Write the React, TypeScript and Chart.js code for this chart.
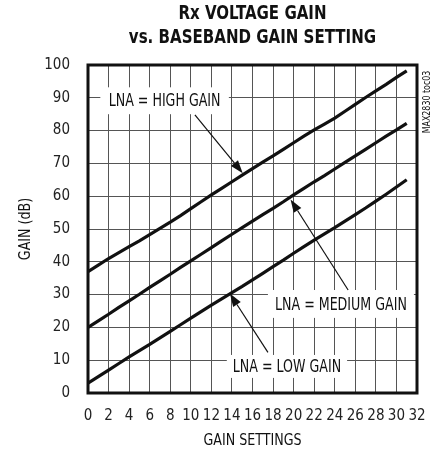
import React, { useEffect, useRef } from "react";
import { Chart, registerables } from "chart.js";

Chart.register(...registerables);

const gainSettings = [0, 1, 2, 3, 4, 5, 6, 7, 8, 9, 10, 11, 12, 13, 14, 15, 16, 17, 18, 19, 20, 21, 22, 23, 24, 25, 26, 27, 28, 29, 30, 31];
const highGain = [37, 39, 41, 42.8, 44.6, 46.4, 48.3, 50.2, 52.1, 54.1, 56.2, 58.3, 60.4, 62.4, 64.4, 66.4, 68.4, 70.4, 72.3, 74.3, 76.3, 78.3, 80.2, 82, 83.8, 85.9, 88, 90.1, 92.1, 94.1, 96.2, 98.2];
const mediumGain = [20, 22, 24, 26.1, 28.1, 30.1, 32.2, 34.2, 36.2, 38.3, 40.3, 42.3, 44.3, 46.4, 48.4, 50.4, 52.4, 54.4, 56.3, 58.3, 60.4, 62.4, 64.4, 66.3, 68.3, 70.3, 72.3, 74.3, 76.3, 78.3, 80.2, 82.2];
const lowGain = [3, 5, 7, 9, 11, 12.9, 14.8, 16.8, 18.8, 20.8, 22.8, 24.8, 26.8, 28.7, 30.6, 32.5, 34.5, 36.5, 38.5, 40.5, 42.6, 44.6, 46.6, 48.5, 50.4, 52.4, 54.4, 56.4, 58.5, 60.6, 62.8, 65];

const xTickValues = [0, 2, 4, 6, 8, 10, 12, 14, 16, 18, 20, 22, 24, 26, 28, 30, 32];
const yTickValues = [0, 10, 20, 30, 40, 50, 60, 70, 80, 90, 100];

const titleLines = ["Rx VOLTAGE GAIN", "vs. BASEBAND GAIN SETTING"];
const xAxisTitle = "GAIN SETTINGS";
const yAxisTitle = "GAIN (dB)";
const watermarkText = "MAX2830 toc03";

const seriesLabels = ["LNA = HIGH GAIN", "LNA = MEDIUM GAIN", "LNA = LOW GAIN"];

// annotation boxes in data units: [x0, x1, yTop, yBottom], arrow from/to in data units
const annotationBoxes = [
  [1.2, 13.7, 93.2, 85],
  [17.5, 31.7, 31.4, 22.9],
  [13.5, 25.2, 11.6, 4.6],
];
const arrowFrom = [
  [10.4, 84.8],
  [25.3, 31.4],
  [17.5, 12.4],
];
const arrowTo = [
  [15.05, 67.0],
  [19.7, 59.0],
  [13.8, 30.3],
];

const FONT = '"DejaVu Sans Condensed", "DejaVu Sans", sans-serif';

function condensedText(ctx: any, text: string, x: number, y: number, font: string, sx: number) {
  ctx.save();
  ctx.font = font;
  ctx.translate(x, y);
  ctx.scale(sx, 1);
  ctx.fillText(text, 0, 0);
  ctx.restore();
}

const overlayPlugin = {
  id: "overlay",
  afterDraw(chart: any) {
    const ctx = chart.ctx;
    const area = chart.chartArea;
    const xs = chart.scales.x;
    const ys = chart.scales.y;
    const cx = (area.left + area.right) / 2;
    ctx.save();

    // frame
    ctx.strokeStyle = "#111";
    ctx.lineWidth = 3;
    ctx.strokeRect(area.left, area.top, area.right - area.left, area.bottom - area.top);

    // title
    ctx.fillStyle = "#111";
    ctx.textAlign = "center";
    ctx.textBaseline = "middle";
    condensedText(ctx, titleLines[0], cx, 14, `bold 19px ${FONT}`, 0.88);
    condensedText(ctx, titleLines[1], cx, 38, `bold 19px ${FONT}`, 0.88);

    // axis titles
    condensedText(ctx, xAxisTitle, cx, 441, `16px ${FONT}`, 0.88);
    ctx.save();
    ctx.translate(26, (area.top + area.bottom) / 2);
    ctx.rotate(-Math.PI / 2);
    condensedText(ctx, yAxisTitle, 0, 0, `16px ${FONT}`, 0.88);
    ctx.restore();

    // watermark
    ctx.save();
    ctx.translate(427, 102);
    ctx.rotate(-Math.PI / 2);
    condensedText(ctx, watermarkText, 0, 0, `11px ${FONT}`, 0.8);
    ctx.restore();

    // annotations
    for (let i = 0; i < seriesLabels.length; i++) {
      const b = annotationBoxes[i];
      const x0 = xs.getPixelForValue(b[0]);
      const x1 = xs.getPixelForValue(b[1]);
      const y0 = ys.getPixelForValue(b[2]);
      const y1 = ys.getPixelForValue(b[3]);
      ctx.fillStyle = "#fff";
      ctx.fillRect(x0, y0, x1 - x0, y1 - y0);

      const fx = xs.getPixelForValue(arrowFrom[i][0]);
      const fy = ys.getPixelForValue(arrowFrom[i][1]);
      const tx = xs.getPixelForValue(arrowTo[i][0]);
      const ty = ys.getPixelForValue(arrowTo[i][1]);
      const ang = Math.atan2(ty - fy, tx - fx);
      const headLen = 13;
      const headW = 4.5;
      const bx = tx - headLen * Math.cos(ang);
      const by = ty - headLen * Math.sin(ang);
      ctx.strokeStyle = "#111";
      ctx.lineWidth = 1.2;
      ctx.beginPath();
      ctx.moveTo(fx, fy);
      ctx.lineTo(bx, by);
      ctx.stroke();
      ctx.fillStyle = "#111";
      ctx.beginPath();
      ctx.moveTo(tx, ty);
      ctx.lineTo(bx + headW * Math.sin(ang), by - headW * Math.cos(ang));
      ctx.lineTo(bx - headW * Math.sin(ang), by + headW * Math.cos(ang));
      ctx.closePath();
      ctx.fill();

      ctx.fillStyle = "#111";
      ctx.textAlign = "center";
      ctx.textBaseline = "middle";
      condensedText(ctx, seriesLabels[i], (x0 + x1) / 2, (y0 + y1) / 2 + 1, `18px ${FONT}`, 0.78);
    }
    ctx.restore();
  },
};

export default function App() {
  const ref = useRef<HTMLCanvasElement | null>(null);
  useEffect(() => {
    document.body.style.margin = "0";
    const canvas = ref.current;
    if (!canvas) return;
    const mk = (vals: number[]) => gainSettings.map((x, i) => ({ x, y: vals[i] }));
    const lineStyle = {
      borderColor: "#111",
      borderWidth: 3.2,
      pointRadius: 0,
      tension: 0,
      fill: false,
    };
    const chart = new Chart(canvas, {
      type: "line",
      data: {
        datasets: [
          { label: seriesLabels[0], data: mk(highGain), ...lineStyle },
          { label: seriesLabels[1], data: mk(mediumGain), ...lineStyle },
          { label: seriesLabels[2], data: mk(lowGain), ...lineStyle },
        ],
      },
      options: {
        animation: false,
        responsive: true,
        maintainAspectRatio: false,
        layout: { padding: { top: 65, right: 15, left: 0, bottom: 0 } },
        plugins: {
          legend: { display: false },
          title: { display: false },
          tooltip: { enabled: false },
        },
        scales: {
          x: {
            type: "linear",
            min: 0,
            max: 32,
            afterFit: (s: any) => {
              s.height = 59;
              s.paddingLeft = 0;
              s.paddingRight = 0;
            },
            afterBuildTicks: (s: any) => {
              s.ticks = xTickValues.map((v) => ({ value: v }));
            },
            ticks: {
              autoSkip: false,
              maxRotation: 0,
              padding: 14,
              color: "#222",
              font: { family: FONT, size: 15 },
            },
            grid: { color: "#555", lineWidth: 1, drawTicks: false },
            border: { display: false },
          },
          y: {
            type: "linear",
            min: 0,
            max: 100,
            afterFit: (s: any) => {
              s.width = 88;
              s.paddingTop = 0;
              s.paddingBottom = 0;
            },
            afterBuildTicks: (s: any) => {
              s.ticks = yTickValues.map((v) => ({ value: v }));
            },
            ticks: {
              padding: 18,
              color: "#222",
              font: { family: FONT, size: 15 },
            },
            grid: { color: "#555", lineWidth: 1, drawTicks: false },
            border: { display: false },
          },
        },
      },
      plugins: [overlayPlugin],
    });
    return () => chart.destroy();
  }, []);
  return (
    <div style={{ width: 432, height: 452, position: "relative" }}>
      <canvas ref={ref} />
    </div>
  );
}
